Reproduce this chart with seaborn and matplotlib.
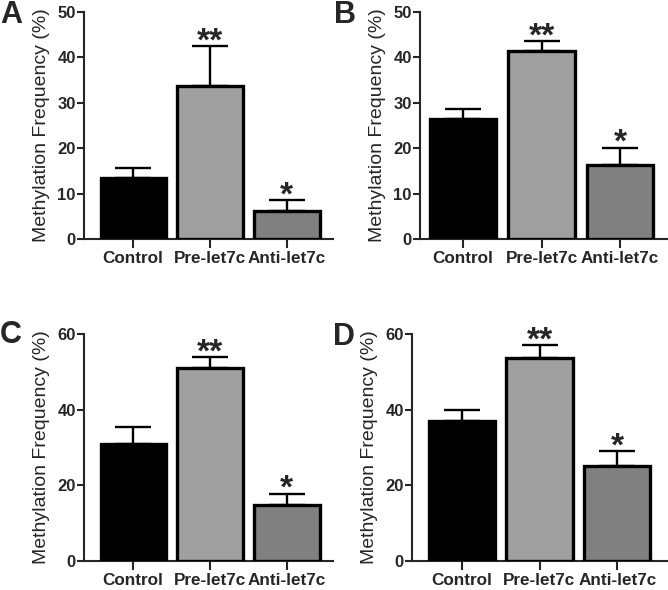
import numpy as np
import seaborn as sns
import matplotlib.pyplot as plt

groupes = ["Control", "Pre-let7c", "Anti-let7c"]
couleurs = ["#000000", "#a0a0a0", "#808080"]
etoiles = ["", "**", "*"]

moy_A = [13.4, 33.8, 6.2]
err_A = [2.2, 8.7, 2.4]
moy_B = [26.5, 41.4, 16.3]
err_B = [2.1, 2.2, 3.8]
moy_C = [31.0, 51.1, 14.9]
err_C = [4.3, 2.7, 2.9]
moy_D = [37.0, 53.6, 25.2]
err_D = [2.8, 3.5, 3.8]

sns.set_style("ticks")
plt.rcParams['font.family'] = ['Liberation Sans', 'DejaVu Sans']

fig = plt.figure(figsize=(6.68, 5.90), dpi=100)
W, H = 668, 590


def axe_px(gauche, haut, droite, bas):
    # position en pixels -> fraction de la figure
    return fig.add_axes([gauche / W, 1 - bas / H, (droite - gauche) / W, (bas - haut) / H])


panneaux = [
    ("A", moy_A, err_A, 50, 10, (84, 12, 333, 239), (-0.64, 2.6), (0, 23)),
    ("B", moy_B, err_B, 50, 10, (420, 12, 667, 239), (-0.55, 2.6), (334, 23)),
    ("C", moy_C, err_C, 60, 20, (84, 334, 333, 561), (-0.64, 2.6), (0, 343)),
    ("D", moy_D, err_D, 60, 20, (412, 334, 667, 561), (-0.64, 2.64), (333, 345)),
]

for lettre, moy, err, ymax, pas, pos, xlim, pos_lettre in panneaux:
    ax = axe_px(*pos)
    sns.barplot(x=groupes, y=moy, hue=groupes, palette=couleurs, legend=False,
                width=0.85, edgecolor="black", linewidth=2.4, ax=ax, zorder=3)
    ax.errorbar(range(3), moy, yerr=[np.zeros(3), err], fmt="none",
                ecolor="black", elinewidth=1.7, capsize=13, capthick=1.7, zorder=2)
    for i, s in enumerate(etoiles):
        if s:
            ax.annotate(s, (i, moy[i] + err[i]), xytext=(0, -3), textcoords="offset points",
                        ha="center", va="baseline", fontsize=24, fontweight="bold",
                        annotation_clip=False)

    ax.set_xlim(*xlim)
    ax.set_ylim(0, ymax)
    ax.set_yticks(np.arange(0, ymax + 1, pas))
    sns.despine(ax=ax)
    for sp in ["left", "bottom"]:
        ax.spines[sp].set_linewidth(1.5)
    ax.tick_params(axis="y", direction="out", length=5, width=1.5, pad=1, labelsize=12)
    ax.tick_params(axis="x", direction="out", length=6.5, width=1.5, pad=2, labelsize=12.3)
    for t in ax.get_xticklabels() + ax.get_yticklabels():
        t.set_fontweight("bold")
    ax.set_xlabel("")
    ax.set_ylabel("Methylation Frequency (%)", fontsize=14, labelpad=5)

    fig.text(pos_lettre[0] / W, 1 - pos_lettre[1] / H, lettre, fontsize=22,
             fontweight="bold", va="baseline", ha="left")

fig.savefig("out.png", dpi=100)
